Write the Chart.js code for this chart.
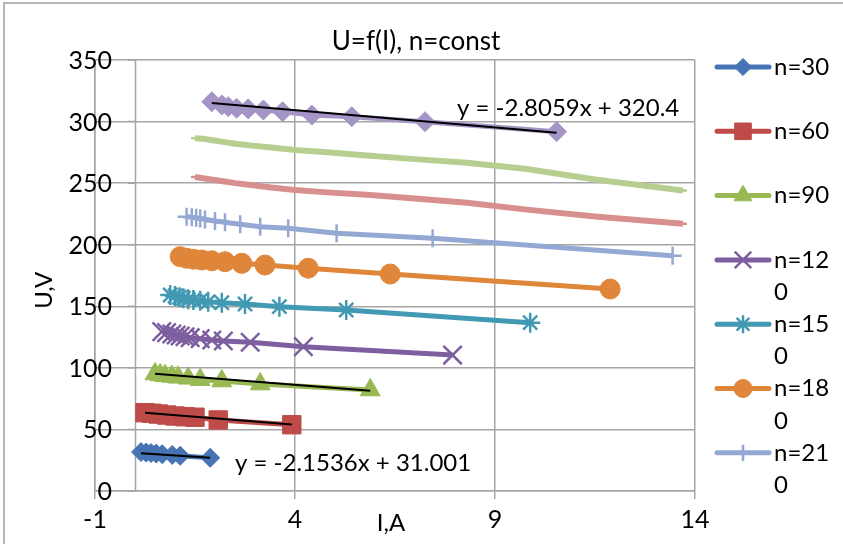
<!DOCTYPE html>
<html>
<head>
<meta charset="utf-8">
<script src="https://cdn.jsdelivr.net/npm/chart.js@4.4.1/dist/chart.umd.min.js"></script>
<style>
  html, body { margin: 0; padding: 0; background: #fff; }
  #wrap { position: relative; width: 843px; height: 544px; }
</style>
</head>
<body>
<div id="wrap"><canvas id="chart" width="843" height="544"></canvas></div>
<script>
// U = f(I) at constant speed, one curve per n
const seriesNames = ['n=30', 'n=60', 'n=90', 'n=120', 'n=150', 'n=180', 'n=210', 'n=240', 'n=270', 'n=300'];

const i30 = [0.15, 0.28, 0.4, 0.53, 0.68, 0.93, 1.13, 1.88];
const u30 = [31.6, 31.2, 30.8, 30.4, 29.9, 29.3, 28.6, 26.9];

const i60 = [0.25, 0.42, 0.58, 0.79, 1.0, 1.25, 1.5, 2.08, 3.92];
const u60 = [63.6, 63.1, 62.5, 61.7, 60.9, 60.3, 59.9, 57.7, 53.8];

const i90 = [0.5, 0.63, 0.75, 0.92, 1.08, 1.33, 1.63, 2.17, 3.13, 5.88];
const u90 = [95.0, 94.2, 93.6, 93.0, 92.3, 91.5, 90.4, 89.3, 86.8, 82.0];

const i120 = [0.67, 0.79, 0.92, 1.03, 1.13, 1.25, 1.38, 1.63, 1.92, 2.21, 2.88, 4.21, 7.94];
const u120 = [129.4, 128.6, 127.5, 126.7, 125.9, 125.3, 124.5, 123.7, 122.6, 121.8, 120.8, 117.2, 110.4];

const i150 = [0.88, 1.0, 1.11, 1.21, 1.33, 1.46, 1.63, 1.83, 2.17, 2.75, 3.61, 5.28, 9.88];
const u150 = [159.2, 158.4, 157.3, 156.5, 155.7, 155.1, 154.5, 153.7, 152.9, 151.9, 149.7, 147.0, 136.7];

const i180 = [1.13, 1.29, 1.46, 1.67, 1.92, 2.25, 2.67, 3.25, 4.33, 6.38, 11.88];
const u180 = [190.3, 189.0, 188.2, 187.6, 187.0, 186.2, 184.9, 183.5, 180.9, 176.2, 164.0];

const i210 = [1.29, 1.42, 1.53, 1.63, 1.75, 2.0, 2.25, 2.63, 3.13, 3.83, 5.04, 7.44, 13.44];
const u210 = [222.8, 222.3, 221.8, 221.3, 220.5, 219.3, 218.2, 216.6, 214.6, 213.3, 209.3, 205.2, 191.1];

const i240 = [1.5, 1.7, 1.9, 2.2, 2.5, 2.9, 3.4, 4.0, 4.8, 5.8, 7.0, 8.3, 9.8, 11.5, 13.7];
const u240 = [255, 254, 253, 251.5, 250, 248.5, 246.5, 244.5, 242.5, 240.5, 237.5, 234, 228.5, 223, 217];

const i270 = [1.5, 1.7, 1.9, 2.2, 2.5, 2.9, 3.4, 4.0, 4.8, 5.8, 7.0, 8.3, 9.8, 11.5, 13.7];
const u270 = [286.5, 286, 285, 283.5, 282, 280.5, 279, 277, 275, 272.5, 269.5, 266.5, 261.5, 253, 244];

const i300 = [1.92, 2.17, 2.33, 2.54, 2.83, 3.21, 3.69, 4.42, 5.42, 7.25, 10.54];
const u300 = [316.1, 313.5, 312.1, 310.8, 310.3, 309.4, 308.0, 305.3, 304.0, 299.9, 291.8];

const currents = [i30, i60, i90, i120, i150, i180, i210, i240, i270, i300];
const voltages = [u30, u60, u90, u120, u150, u180, u210, u240, u270, u300];

// linear trendlines: series index, slope, intercept, equation shown or not
const trendSeries = [0, 1, 2, 9];
const trendSlope = [-2.1536, -2.57, -2.57, -2.8059];
const trendIntercept = [31.001, 64.1, 96.5, 320.4];
const trendShowEq = [true, false, false, true];

const xTicks = [-1, 4, 9, 14];
const legendCount = 7;

const colors = ['#4674B4', '#BE4B48', '#98B954', '#7D5FA0', '#4199B3', '#E0863A', '#93A8D2', '#D8908E', '#B6CF90', '#A595C6'];
const markers = ['rectRot', 'rect', 'triangle', 'crossRot', 'star', 'circle', 'cross', 'line', 'line', 'rectRot'];
const markerRadius = [9.5, 13, 11.5, 13, 10, 10, 9, 4, 4, 10];
const lineWidths = [5, 5, 5, 5, 5, 5, 5, 6, 6, 5];

const FONT = 'Lato, "Open Sans", sans-serif';

const datasets = seriesNames.map((name, k) => {
  const stroked = ['crossRot', 'star', 'cross', 'line'].includes(markers[k]);
  return {
    label: name,
    data: currents[k].map((x, j) => ({ x: x, y: voltages[k][j] })),
    showLine: true,
    tension: 0,
    borderColor: colors[k],
    backgroundColor: colors[k],
    borderWidth: lineWidths[k],
    pointStyle: markers[k],
    pointRadius: markerRadius[k],
    pointBorderWidth: stroked ? 2.5 : 1,
    pointBackgroundColor: colors[k],
    pointBorderColor: colors[k],
    order: 20 - k
  };
});

trendSeries.forEach((s, t) => {
  const xs = currents[s];
  const x0 = Math.min(...xs), x1 = Math.max(...xs);
  datasets.push({
    label: 'trend ' + seriesNames[s],
    data: [x0, x1].map(x => ({ x: x, y: trendSlope[t] * x + trendIntercept[t] })),
    showLine: true,
    borderColor: '#000',
    borderWidth: 2,
    pointRadius: 0,
    order: -1
  });
});

function wrapText(ctx, text, maxW) {
  const lines = [];
  let cur = '';
  for (const ch of text) {
    if (cur && ctx.measureText(cur + ch).width > maxW) {
      lines.push(cur);
      cur = ch;
    } else {
      cur += ch;
    }
  }
  lines.push(cur);
  return lines;
}

const decor = {
  id: 'decor',
  beforeDatasetsDraw(chart) {
    const ctx = chart.ctx;
    const xs = chart.scales.x, ys = chart.scales.y;
    const x0 = Math.round(xs.getPixelForValue(0)) + 0.5;
    ctx.save();
    // vertical axis crosses at I = 0
    ctx.strokeStyle = '#a6a6a6';
    ctx.lineWidth = 1.5;
    ctx.beginPath();
    ctx.moveTo(x0, ys.top);
    ctx.lineTo(x0, ys.bottom);
    ys.ticks.forEach(t => {
      const py = ys.getPixelForValue(t.value);
      ctx.moveTo(x0 - 8, py);
      ctx.lineTo(x0, py);
    });
    ctx.stroke();
    ctx.restore();
  },
  afterDraw(chart) {
    const ctx = chart.ctx;
    const xs = chart.scales.x, ys = chart.scales.y;
    ctx.save();

    // outer frame
    ctx.strokeStyle = '#a0a0a0';
    ctx.lineWidth = 1.5;
    ctx.beginPath();
    ctx.moveTo(4, 544);
    ctx.lineTo(4, 3);
    ctx.lineTo(843, 3);
    ctx.stroke();

    ctx.fillStyle = '#000';
    ctx.textBaseline = 'middle';

    // y tick labels sit over the left part of the plot
    ctx.font = '25px ' + FONT;
    ctx.textAlign = 'right';
    ys.ticks.forEach(t => {
      ctx.fillText(String(t.value), 112, ys.getPixelForValue(t.value) + 1);
    });

    // title
    ctx.font = '26px ' + FONT;
    ctx.textAlign = 'center';
    ctx.fillText('U=f(I), n=const', 416, 42);

    // axis titles
    ctx.font = '24px ' + FONT;
    ctx.fillText('I,A', xs.getPixelForValue(6.4), 523);
    ctx.save();
    ctx.translate(44, ys.getPixelForValue(163));
    ctx.rotate(-Math.PI / 2);
    ctx.fillText('U,V', 0, 0);
    ctx.restore();

    // trendline equations
    ctx.font = '24px ' + FONT;
    ctx.textAlign = 'left';
    const eqPos = [[2.5, 22.7], null, null, [8.05, 311]];
    trendSeries.forEach((s, t) => {
      if (!trendShowEq[t]) return;
      const txt = 'y = ' + trendSlope[t] + 'x + ' + trendIntercept[t];
      ctx.fillText(txt, xs.getPixelForValue(eqPos[t][0]), ys.getPixelForValue(eqPos[t][1]));
    });

    // legend
    const draw = (Chart.helpers && Chart.helpers.drawPoint) ? Chart.helpers.drawPoint : null;
    ctx.font = '24px ' + FONT;
    for (let k = 0; k < legendCount; k++) {
      const y = 67 + k * 64.3;
      ctx.strokeStyle = colors[k];
      ctx.lineWidth = 5;
      ctx.lineCap = 'round';
      ctx.beginPath();
      ctx.moveTo(717, y);
      ctx.lineTo(769, y);
      ctx.stroke();
      ctx.lineCap = 'butt';
      if (draw) {
        const stroked = ['crossRot', 'star', 'cross', 'line'].includes(markers[k]);
        ctx.fillStyle = colors[k];
        ctx.strokeStyle = colors[k];
        ctx.lineWidth = stroked ? 2.5 : 1;
        draw(ctx, { pointStyle: markers[k], radius: markerRadius[k] * 0.9, rotation: 0, borderWidth: ctx.lineWidth }, 743, y);
      }
      ctx.fillStyle = '#000';
      ctx.textAlign = 'left';
      const lines = wrapText(ctx, seriesNames[k], 62);
      lines.forEach((ln, j) => ctx.fillText(ln, 774, y + j * 32.5));
    }
    ctx.restore();
  }
};

Chart.defaults.font.family = FONT;

new Chart(document.getElementById('chart'), {
  type: 'scatter',
  data: { datasets: datasets },
  options: {
    responsive: false,
    animation: false,
    events: [],
    devicePixelRatio: 1,
    layout: { padding: { left: 0, right: 148, top: 60, bottom: 0 } },
    plugins: {
      legend: { display: false },
      title: { display: false },
      tooltip: { enabled: false }
    },
    scales: {
      x: {
        type: 'linear',
        min: -1,
        max: 14,
        afterBuildTicks: s => { s.ticks = xTicks.map(v => ({ value: v })); },
        afterFit: s => { s.height = 53; },
        grid: { color: '#a6a6a6', lineWidth: 1.5, tickLength: 8 },
        border: { color: '#a6a6a6', width: 1.5 },
        ticks: { color: '#000', font: { size: 25 }, padding: 6, maxRotation: 0 }
      },
      y: {
        min: 0,
        max: 350,
        afterFit: s => { s.width = 95; },
        grid: { color: '#a6a6a6', lineWidth: 1.5, drawTicks: false },
        border: { color: '#a6a6a6', width: 1.5 },
        ticks: { display: false, stepSize: 50 }
      }
    }
  },
  plugins: [decor]
});
</script>
</body>
</html>
